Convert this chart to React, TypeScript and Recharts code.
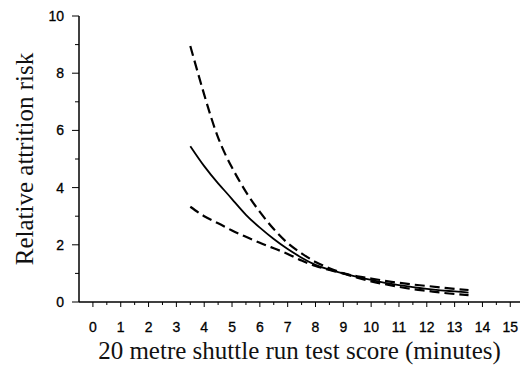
import React from "react";
import { LineChart, Line, XAxis, YAxis } from "recharts";

// Shuttle run score (minutes)
const scores = [3.5, 4, 4.5, 5, 5.5, 6, 6.5, 7, 7.5, 8, 8.5, 9, 9.5, 10, 10.5, 11, 11.5, 12, 12.5, 13, 13.5];
// Relative attrition risk (central estimate)
const riskCentral = [5.45, 4.75, 4.15, 3.6, 3.05, 2.6, 2.2, 1.85, 1.55, 1.3, 1.13, 1.0, 0.88, 0.77, 0.67, 0.59, 0.52, 0.46, 0.41, 0.37, 0.33];
// Confidence bound that starts high (steep dashed curve)
const steepBound = [8.95, 7.25, 5.75, 4.7, 3.85, 3.15, 2.55, 2.06, 1.7, 1.4, 1.18, 1.0, 0.85, 0.72, 0.62, 0.53, 0.45, 0.39, 0.33, 0.28, 0.24];
// Confidence bound that starts low (shallow dashed curve)
const shallowBound = [3.33, 3.0, 2.75, 2.5, 2.28, 2.07, 1.88, 1.68, 1.45, 1.26, 1.12, 1.0, 0.9, 0.82, 0.74, 0.67, 0.61, 0.56, 0.51, 0.46, 0.42];

const xTicks = [0, 0.5, 1, 1.5, 2, 2.5, 3, 3.5, 4, 4.5, 5, 5.5, 6, 6.5, 7, 7.5, 8, 8.5, 9, 9.5, 10, 10.5, 11, 11.5, 12, 12.5, 13, 13.5, 14, 14.5, 15];
const yTicks = [0, 1, 2, 3, 4, 5, 6, 7, 8, 9, 10];
const yLabelled = [0, 2, 4, 6, 8, 10];

const data = scores.map((s, i) => ({
  score: s,
  central: riskCentral[i],
  steep: steepBound[i],
  shallow: shallowBound[i],
}));

const tickFont = "'Liberation Sans', Arial, sans-serif";
const titleFont = "'Liberation Serif', 'Times New Roman', serif";

const XTick = (props: any) => {
  const { x, y, payload } = props;
  const v = payload.value;
  const major = Number.isInteger(v);
  return (
    <g>
      <line x1={x} x2={x} y1={y} y2={y + (major ? 5 : 3)} stroke="#000" strokeWidth={1} />
      {major && (
        <text
          x={x}
          y={y + 30}
          textAnchor="middle"
          fontFamily={tickFont}
          fontSize={14}
          fill="#000"
          stroke="#000"
          strokeWidth={0.3}
        >
          {v}
        </text>
      )}
    </g>
  );
};

const YTick = (props: any) => {
  const { x, y, payload } = props;
  const v = payload.value;
  const major = yLabelled.includes(v);
  return (
    <g>
      <line x1={x} x2={x - (major ? 7 : 4)} y1={y} y2={y} stroke="#000" strokeWidth={1} />
      {major && (
        <text
          x={x - 15}
          y={y}
          dy="0.36em"
          textAnchor="end"
          fontFamily={tickFont}
          fontSize={14}
          fill="#000"
          stroke="#000"
          strokeWidth={0.3}
        >
          {v}
        </text>
      )}
    </g>
  );
};

export default function App() {
  return (
    <div style={{ position: "absolute", left: 0, top: 0, background: "#fff" }}>
      <LineChart
        width={524}
        height={367}
        data={data}
        margin={{ top: 16, right: 4, bottom: 0, left: 0 }}
      >
        <XAxis
          dataKey="score"
          type="number"
          domain={[-0.5, 15.35]}
          ticks={xTicks}
          interval={0}
          tick={<XTick />}
          tickLine={false}
          tickSize={0}
          tickMargin={0}
          height={65}
          axisLine={{ stroke: "#000", strokeWidth: 1.5 }}
          allowDataOverflow
          label={{
            value: "20 metre shuttle run test score (minutes)",
            position: "center",
            dy: 16,
            style: { fontFamily: titleFont, fontSize: 25, fill: "#111" },
          }}
        />
        <YAxis
          type="number"
          domain={[0, 10]}
          ticks={yTicks}
          interval={0}
          tick={<YTick />}
          tickLine={false}
          tickSize={0}
          tickMargin={0}
          width={79}
          axisLine={{ stroke: "#000", strokeWidth: 1.5 }}
          allowDataOverflow
          label={{
            value: "Relative attrition risk",
            angle: -90,
            position: "center",
            dx: -15.5,
            style: { fontFamily: titleFont, fontSize: 25, fill: "#111" },
          }}
        />
        <Line
          type="natural"
          dataKey="steep"
          stroke="#000"
          strokeWidth={2.2}
          strokeDasharray="10 5"
          dot={false}
          isAnimationActive={false}
        />
        <Line
          type="natural"
          dataKey="shallow"
          stroke="#000"
          strokeWidth={2.2}
          strokeDasharray="10 5"
          dot={false}
          isAnimationActive={false}
        />
        <Line
          type="natural"
          dataKey="central"
          stroke="#000"
          strokeWidth={1.8}
          dot={false}
          isAnimationActive={false}
        />
      </LineChart>
    </div>
  );
}
